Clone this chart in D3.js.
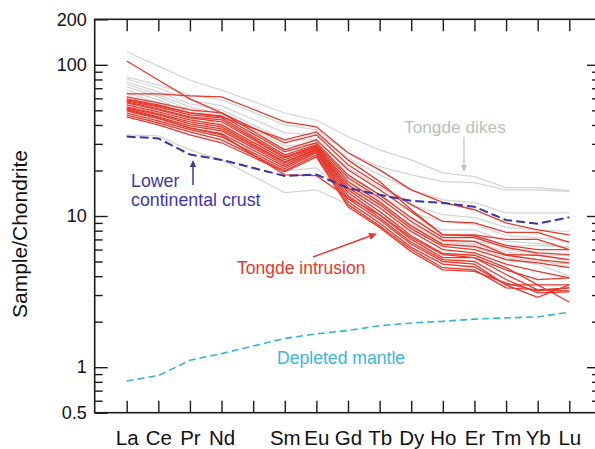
<!DOCTYPE html>
<html>
<head>
<meta charset="utf-8">
<script src="https://cdn.jsdelivr.net/npm/d3@7"></script>
<style>
  html, body { margin: 0; padding: 0; background: #fff; }
  svg { display: block; font-family: "Liberation Sans", Arial, Helvetica, sans-serif; }
</style>
</head>
<body>
<svg id="chart" width="595" height="449"></svg>
<script>
// Chondrite-normalised REE patterns, Tongde intrusion and dikes
const axisSlots = ["La","Ce","Pr","Nd","Pm","Sm","Eu","Gd","Tb","Dy","Ho","Er","Tm","Yb","Lu"];
const elements  = ["La","Ce","Pr","Nd","Sm","Eu","Gd","Tb","Dy","Ho","Er","Tm","Yb","Lu"];
const yLabelTicks = [0.5, 1, 10, 100, 200];

const lowerCrust     = [33.5, 32.6, 25.5, 23.5, 18.4, 18.8, 15.3, 13.8, 12.6, 12.2, 11.5, 9.4, 8.9, 9.8];
const depletedMantle = [0.81, 0.88, 1.11, 1.23, 1.55, 1.66, 1.75, 1.88, 1.96, 2.01, 2.08, 2.12, 2.15, 2.31];

const intrusion = [
  [64.2, 64.2, 62.3, 61.4, 42.0, 38.9, 26.2, 20.2, 14.9, 12.3, 11.0, 9.0, 8.1, 7.5],
  [106, 79.4, 59.5, 48.1, 30.5, 34.4, 21.8, 16.1, 11.9, 9.2, 9.0, 7.8, 7.8, 6.7],
  [61.4, 56.0, 50.3, 48.1, 27.4, 31.9, 20.2, 14.9, 10.7, 7.5, 7.5, 7.0, 7.0, 6.0],
  [59.5, 54.3, 48.1, 46.0, 26.6, 30.5, 18.7, 13.8, 9.75, 7.2, 7.2, 6.2, 5.7, 5.55],
  [57.7, 52.7, 46.7, 44.6, 25.4, 29.6, 17.9, 13.2, 9.2, 6.9, 6.8, 5.55, 5.5, 5.15],
  [56.9, 51.1, 45.3, 43.3, 24.6, 29.1, 16.9, 12.4, 8.6, 6.5, 6.3, 5.5, 5.15, 4.9],
  [56.0, 50.3, 44.6, 42.0, 24.3, 28.7, 16.1, 11.9, 8.25, 6.3, 6.0, 5.15, 4.9, 4.55],
  [54.3, 48.9, 43.3, 40.1, 23.5, 28.3, 15.4, 11.35, 7.9, 6.0, 5.7, 4.8, 4.3, 3.9],
  [52.7, 47.4, 42.0, 38.9, 22.8, 27.8, 14.9, 10.7, 7.4, 5.65, 5.5, 4.55, 3.5, 3.5],
  [51.9, 46.7, 40.7, 37.7, 22.5, 27.4, 14.3, 10.2, 7.0, 5.3, 5.3, 4.1, 3.25, 3.35],
  [51.1, 45.3, 39.5, 36.6, 21.8, 27.0, 13.6, 9.75, 6.7, 5.15, 5.0, 3.8, 3.1, 3.15],
  [49.6, 44.0, 38.3, 35.0, 21.2, 26.6, 13.0, 9.45, 6.5, 5.0, 4.8, 3.5, 2.9, 3.5],
  [48.1, 42.6, 37.2, 33.4, 20.5, 26.2, 12.4, 9.0, 6.2, 4.8, 4.6, 3.5, 3.5, 2.7],
  [46.7, 41.3, 36.0, 31.9, 19.9, 25.4, 11.9, 8.6, 6.0, 4.55, 4.4, 3.35, 3.25, 3.2],
  [45.3, 40.1, 34.4, 30.5, 19.6, 24.6, 11.5, 8.4, 5.8, 4.4, 4.3, 3.6, 3.2, 3.35],
  [50.3, 44.6, 38.3, 34.4, 18.7, 18.5, 13.2, 10.2, 7.2, 5.55, 5.3, 4.4, 3.8, 3.9],
  [58.6, 53.5, 48.1, 45.3, 31.9, 36.0, 23.5, 16.9, 11.0, 7.5, 7.4, 6.4, 6.0, 6.0]
];

const dikes = [
  [122, 98, 79, 68, 48, 43, 33.4, 27.4, 23.5, 19.3, 18.2, 15.4, 15.4, 14.7],
  [83, 73.6, 63.3, 58.6, 40.1, 37.2, 26.2, 21.2, 18.7, 16.9, 16.6, 14.9, 14.9, 14.5],
  [80.6, 70.3, 58.6, 53.5, 35.5, 34.4, 24.3, 18.7, 14.9, 12.8, 12.25, 10.5, 10.5, 10.5],
  [77, 66.2, 55.2, 50.3, 31.9, 31.9, 20.8, 15.4, 11.9, 10.2, 9.75, 8.4, 8.1, 7.9],
  [74.7, 63.3, 52.7, 47.4, 29.1, 30.0, 18.7, 13.8, 10.5, 9.2, 8.8, 7.4, 7.2, 6.8],
  [71.4, 61.4, 50.3, 45.3, 27.4, 28.3, 17.4, 12.8, 9.5, 8.1, 8.1, 6.8, 6.6, 6.2],
  [68.2, 58.6, 48.1, 43.3, 25.4, 26.6, 16.1, 11.9, 8.8, 7.4, 7.3, 6.0, 5.65, 5.0],
  [65.2, 56.0, 46.0, 40.7, 23.5, 25.0, 14.9, 10.7, 7.8, 6.6, 6.5, 5.15, 4.8, 4.0],
  [58.6, 51.9, 44.0, 38.9, 24.3, 27.4, 16.6, 12.25, 8.6, 7.0, 6.8, 5.8, 5.5, 5.5],
  [45.3, 42.0, 37.2, 33.4, 19.9, 20.8, 13.8, 10.2, 7.9, 6.5, 6.2, 5.3, 5.0, 4.8],
  [34.4, 33.9, 27.4, 23.5, 14.3, 14.9, 11.9, 9.5, 7.9, 7.0, 6.8, 6.3, 6.4, 6.2],
  [54.3, 48.1, 40.7, 36.6, 22.5, 24.3, 15.4, 11.5, 8.4, 6.8, 6.6, 5.55, 5.15, 4.55]
];

const svg = d3.select("#chart");
const frame = { left: 94.7, top: 19.3, right: 600, bottom: 412.7 };

const x = d3.scalePoint().domain(axisSlots).range([126.7, 569.3]);
const y = d3.scaleLog().domain([0.5, 200]).range([frame.bottom, frame.top]);

const minorTicks = [];
[0.1, 1, 10].forEach(dec => {
  for (let k = 2; k <= 9; k++) {
    const v = +(k * dec).toPrecision(3);
    if (v > 0.5 && v < 200 && v !== 1 && v !== 10 && v !== 100) minorTicks.push(v);
  }
});

const line = d3.line()
  .x((d, i) => x(elements[i]))
  .y(d => y(d));

// clip to plot frame
svg.append("defs").append("clipPath").attr("id", "plotClip")
  .append("rect")
  .attr("x", frame.left).attr("y", frame.top)
  .attr("width", frame.right - frame.left).attr("height", frame.bottom - frame.top);

const plot = svg.append("g").attr("clip-path", "url(#plotClip)");

plot.selectAll("path.dike").data(dikes).join("path")
  .attr("class", "dike")
  .attr("d", line)
  .attr("fill", "none")
  .attr("stroke", "#d4d4d4")
  .attr("stroke-width", 1.2);

plot.selectAll("path.intr").data(intrusion).join("path")
  .attr("class", "intr")
  .attr("d", line)
  .attr("fill", "none")
  .attr("stroke", "#e8372c")
  .attr("stroke-width", 1.3);

plot.append("path").datum(lowerCrust)
  .attr("d", line)
  .attr("fill", "none")
  .attr("stroke", "#3b33a8")
  .attr("stroke-width", 2)
  .attr("stroke-dasharray", "9,4");

plot.append("path").datum(depletedMantle)
  .attr("d", line)
  .attr("fill", "none")
  .attr("stroke", "#36b4d6")
  .attr("stroke-width", 1.6)
  .attr("stroke-dasharray", "7,4");

// axes
const axisColor = "#1a1a1a";
function styleAxis(g) {
  g.select(".domain").remove();
  g.selectAll(".tick line").attr("stroke", axisColor).attr("stroke-width", 1.4);
  g.selectAll(".tick text").attr("fill", "#111");
}

svg.append("g")
  .attr("transform", `translate(0,${frame.bottom})`)
  .call(d3.axisBottom(x).tickSize(-12).tickPadding(17.5)
        .tickFormat(d => d === "Pm" ? "" : d))
  .call(styleAxis)
  .call(g => g.selectAll("text").attr("font-size", 20.5).attr("font-family", "Liberation Sans, Arial, sans-serif"));

svg.append("g")
  .attr("transform", `translate(0,${frame.top})`)
  .call(d3.axisTop(x).tickSize(-12).tickFormat(""))
  .call(styleAxis);

svg.append("g")
  .attr("transform", `translate(${frame.left},0)`)
  .call(d3.axisLeft(y).tickValues(yLabelTicks).tickSize(-13).tickPadding(8)
        .tickFormat(d => String(d)))
  .call(styleAxis)
  .call(g => g.selectAll("text").attr("font-size", 18).attr("font-family", "Liberation Sans, Arial, sans-serif"));

svg.append("g")
  .attr("transform", `translate(${frame.left},0)`)
  .call(d3.axisLeft(y).tickValues(minorTicks).tickSize(-8).tickFormat(""))
  .call(styleAxis);

svg.append("g")
  .attr("transform", `translate(${frame.right},0)`)
  .call(d3.axisRight(y).tickValues([1, 10, 100]).tickSize(-13).tickFormat(""))
  .call(styleAxis);

svg.append("g")
  .attr("transform", `translate(${frame.right},0)`)
  .call(d3.axisRight(y).tickValues(minorTicks).tickSize(-8).tickFormat(""))
  .call(styleAxis);

// frame
svg.append("rect")
  .attr("x", frame.left).attr("y", frame.top)
  .attr("width", frame.right - frame.left).attr("height", frame.bottom - frame.top)
  .attr("fill", "none").attr("stroke", axisColor).attr("stroke-width", 1.6);

// y title
svg.append("text")
  .attr("transform", "translate(27,234) rotate(-90)")
  .attr("text-anchor", "middle")
  .attr("font-size", 21)
  .attr("fill", "#111")
  .text("Sample/Chondrite");

// annotations
function arrow(x1, y1, x2, y2, color, width, head) {
  const ang = Math.atan2(y2 - y1, x2 - x1);
  const hl = head, hw = head * 0.45;
  const bx = x2 - hl * Math.cos(ang), by = y2 - hl * Math.sin(ang);
  svg.append("line")
    .attr("x1", x1).attr("y1", y1).attr("x2", bx).attr("y2", by)
    .attr("stroke", color).attr("stroke-width", width);
  const p = [
    [x2, y2],
    [bx + hw * Math.sin(ang), by - hw * Math.cos(ang)],
    [bx - hw * Math.sin(ang), by + hw * Math.cos(ang)]
  ];
  svg.append("polygon").attr("points", p.map(d => d.join(",")).join(" ")).attr("fill", color);
}

svg.append("text").attr("x", 404).attr("y", 133).attr("font-size", 17.3)
  .attr("fill", "#bdbdbd").text("Tongde dikes");
arrow(464, 137, 464, 172, "#c4c4c4", 1.3, 7);

svg.append("text").attr("x", 131).attr("y", 186.5).attr("font-size", 17.8)
  .attr("fill", "#3f36aa").text("Lower");
svg.append("text").attr("x", 131).attr("y", 206).attr("font-size", 17.8)
  .attr("fill", "#3f36aa").text("continental crust");
arrow(193, 185, 193, 160, "#3f36aa", 1.5, 7);

svg.append("text").attr("x", 237).attr("y", 274).attr("font-size", 17.5)
  .attr("fill", "#e8372c").text("Tongde intrusion");
arrow(313, 257, 377, 233.5, "#e8372c", 1.4, 8);

svg.append("text").attr("x", 277).attr("y", 364).attr("font-size", 17.6)
  .attr("fill", "#3ab6d8").text("Depleted mantle");
</script>
</body>
</html>
